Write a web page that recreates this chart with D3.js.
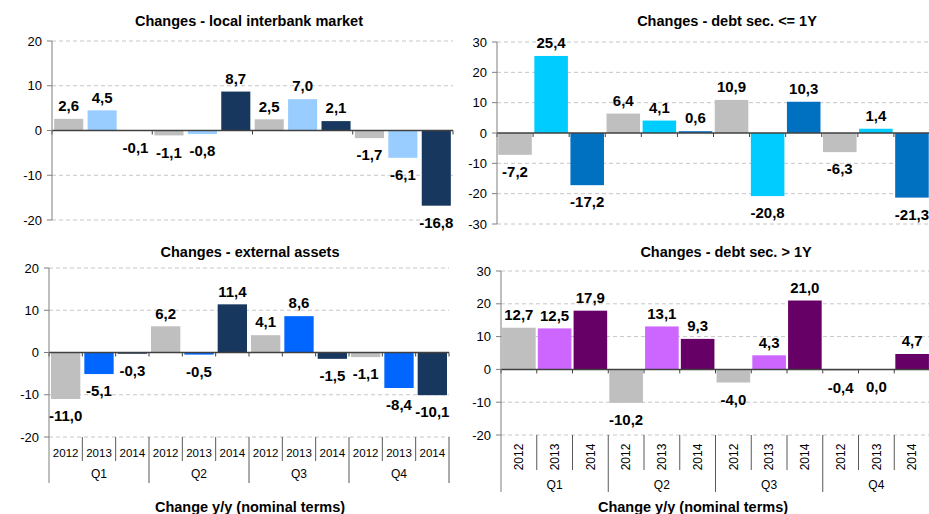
<!DOCTYPE html>
<html>
<head>
<meta charset="utf-8">
<script src="https://cdn.jsdelivr.net/npm/d3@7"></script>
<style>
  body { margin: 0; background: #fff; }
  svg { display: block; font-family: "Liberation Sans", Arial, sans-serif; }
</style>
</head>
<body>
<svg id="chart" width="929" height="514"></svg>
<script>
// Categories
const quarters = ["Q1", "Q2", "Q3", "Q4"];
const years = ["2012", "2013", "2014"];

// Series values, order: Q1 2012..2014, Q2 2012..2014, ...
const localInterbank = [2.6, 4.5, -0.1, -1.1, -0.8, 8.7, 2.5, 7.0, 2.1, -1.7, -6.1, -16.8];
const debtShort = [-7.2, 25.4, -17.2, 6.4, 4.1, 0.6, 10.9, -20.8, 10.3, -6.3, 1.4, -21.3];
const externalAssets = [-11.0, -5.1, -0.3, 6.2, -0.5, 11.4, 4.1, 8.6, -1.5, -1.1, -8.4, -10.1];
const debtLong = [12.7, 12.5, 17.9, -10.2, 13.1, 9.3, -4.0, 4.3, 21.0, -0.4, 0.0, 4.7];

// Tick values for each panel
const ticks20 = [-20, -10, 0, 10, 20];
const ticks30 = [-30, -20, -10, 0, 10, 20, 30];
const ticks30b = [-20, -10, 0, 10, 20, 30];

const footer = "Change y/y (nominal terms)";

const svg = d3.select("#chart");
const fmt = v => v.toFixed(1).replace(".", ",");

// category list: one per quarter/year pair
const cats = [];
quarters.forEach(q => years.forEach(y => cats.push({ q, y })));

function drawPanel(cfg) {
    const g = svg.append("g");

    const x = d3.scaleBand()
        .domain(d3.range(cats.length))
        .range([cfg.x0, cfg.x1])
        .paddingInner(cfg.pad)
        .paddingOuter(cfg.pad / 2);
    const step = x.step();

    const y = d3.scaleLinear()
        .domain(cfg.domain)
        .range(cfg.range);

    // title
    g.append("text")
        .attr("x", cfg.titleX)
        .attr("y", cfg.titleY)
        .attr("text-anchor", "middle")
        .style("font-size", "14.5px")
        .style("font-weight", "bold")
        .attr("fill", "#000")
        .text(cfg.title);

    // dashed gridlines
    g.selectAll(".grid")
        .data(cfg.ticks.filter(t => t !== 0))
        .enter()
        .append("line")
        .attr("x1", cfg.x0)
        .attr("x2", cfg.x1)
        .attr("y1", d => y(d))
        .attr("y2", d => y(d))
        .attr("stroke", "#c6c6c6")
        .attr("stroke-width", 1)
        .attr("stroke-dasharray", "4,3");

    // bars
    g.selectAll(".bar")
        .data(cfg.values)
        .enter()
        .append("rect")
        .attr("x", (d, i) => x(i))
        .attr("width", x.bandwidth())
        .attr("y", d => y(Math.max(0, d)))
        .attr("height", d => Math.abs(y(d) - y(0)))
        .attr("fill", (d, i) => cfg.colors[i % 3]);

    // zero line with small ticks
    g.append("line")
        .attr("x1", cfg.x0).attr("x2", cfg.x1)
        .attr("y1", y(0)).attr("y2", y(0))
        .attr("stroke", "#404040")
        .attr("stroke-width", 1.5);

    const zt = d3.range(cats.length + 1).filter(i => cfg.zeroTicks === "band" || i % 3 === 0);
    g.selectAll(".zt")
        .data(zt)
        .enter()
        .append("line")
        .attr("x1", i => cfg.x0 + i * step)
        .attr("x2", i => cfg.x0 + i * step)
        .attr("y1", y(0))
        .attr("y2", y(0) + 4)
        .attr("stroke", "#404040");

    // y axis
    g.append("line")
        .attr("x1", cfg.x0).attr("x2", cfg.x0)
        .attr("y1", y(cfg.domain[1]))
        .attr("y2", cfg.catAxis ? y(cfg.domain[0]) + cfg.qSep : y(cfg.domain[0]))
        .attr("stroke", "#7f7f7f");

    g.selectAll(".yt")
        .data(cfg.ticks)
        .enter()
        .append("line")
        .attr("x1", cfg.x0 - 5).attr("x2", cfg.x0)
        .attr("y1", d => y(d)).attr("y2", d => y(d))
        .attr("stroke", "#7f7f7f");

    g.selectAll(".yl")
        .data(cfg.ticks)
        .enter()
        .append("text")
        .attr("x", cfg.x0 - 10)
        .attr("y", d => y(d))
        .attr("dy", "0.35em")
        .attr("text-anchor", "end")
        .style("font-size", "13px")
        .attr("fill", "#000")
        .text(d => d);

    // value labels
    g.selectAll(".vl")
        .data(cfg.values)
        .enter()
        .append("text")
        .attr("x", (d, i) => x(i) + x.bandwidth() / 2)
        .attr("y", d => d > 0 ? y(d) - 13 : y(Math.min(d, 0)) + 17)
        .attr("dy", "0.35em")
        .attr("text-anchor", "middle")
        .style("font-size", "15px")
        .style("font-weight", "bold")
        .attr("fill", "#000")
        .text(d => fmt(d));

    // category axis under the plot
    if (cfg.catAxis) {
        const base = y(cfg.domain[0]);
        g.selectAll(".sep")
            .data(d3.range(1, cats.length + 1))
            .enter()
            .append("line")
            .attr("x1", i => cfg.x0 + i * step)
            .attr("x2", i => cfg.x0 + i * step)
            .attr("y1", base)
            .attr("y2", i => base + (i % 3 === 0 ? cfg.qSep : cfg.ySep))
            .attr("stroke", "#595959");

        const yl = g.selectAll(".yr")
            .data(cats)
            .enter()
            .append("text")
            .style("font-size", cfg.catAxis === "rotated" ? "12px" : "11.5px")
            .attr("fill", "#000")
            .text(d => d.y);
        if (cfg.catAxis === "rotated") {
            yl.attr("text-anchor", "middle")
                .attr("dy", "0.35em")
                .attr("transform", (d, i) =>
                    `translate(${x(i) + x.bandwidth() / 2},${base + cfg.yearY}) rotate(-90)`);
        } else {
            yl.attr("text-anchor", "middle")
                .attr("dy", "0.35em")
                .attr("x", (d, i) => cfg.x0 + (i + 0.5) * step)
                .attr("y", base + cfg.yearY);
        }

        g.selectAll(".ql")
            .data(quarters)
            .enter()
            .append("text")
            .attr("x", (d, i) => cfg.x0 + (i * 3 + 1.5) * step)
            .attr("y", base + cfg.qY)
            .attr("dy", "0.35em")
            .attr("text-anchor", "middle")
            .style("font-size", "12px")
            .attr("fill", "#000")
            .text(d => d);

        g.append("text")
            .attr("x", cfg.footX)
            .attr("y", 507)
            .attr("dy", "0.35em")
            .attr("text-anchor", "middle")
            .style("font-size", "14.5px")
            .style("font-weight", "bold")
            .attr("fill", "#000")
            .text(footer);
    }
}

drawPanel({
    title: "Changes - local interbank market",
    values: localInterbank,
    colors: ["#bfbfbf", "#99ccff", "#17375e"],
    x0: 52, x1: 453, pad: 0.13,
    domain: [-20, 20], range: [220, 41], ticks: ticks20,
    titleX: 249, titleY: 26,
    zeroTicks: "quarter"
});

drawPanel({
    title: "Changes - debt sec. <= 1Y",
    values: debtShort,
    colors: ["#bfbfbf", "#00ccff", "#0070c0"],
    x0: 497, x1: 930, pad: 0.07,
    domain: [-30, 30], range: [224, 42], ticks: ticks30,
    titleX: 727, titleY: 26,
    zeroTicks: "band"
});

drawPanel({
    title: "Changes - external assets",
    values: externalAssets,
    colors: ["#bfbfbf", "#0066ff", "#17375e"],
    x0: 49, x1: 449, pad: 0.12,
    domain: [-20, 20], range: [437, 268], ticks: ticks20,
    titleX: 250, titleY: 257,
    zeroTicks: "band",
    catAxis: "flat", ySep: 24, qSep: 46, yearY: 16, qY: 37,
    footX: 250
});

drawPanel({
    title: "Changes - debt sec. > 1Y",
    values: debtLong,
    colors: ["#bfbfbf", "#cc66ff", "#660066"],
    x0: 501, x1: 930, pad: 0.06,
    domain: [-20, 30], range: [435, 271], ticks: ticks30b,
    titleX: 726, titleY: 257,
    zeroTicks: "band",
    catAxis: "rotated", ySep: 35, qSep: 57, yearY: 22, qY: 50,
    footX: 693
});
</script>
</body>
</html>
